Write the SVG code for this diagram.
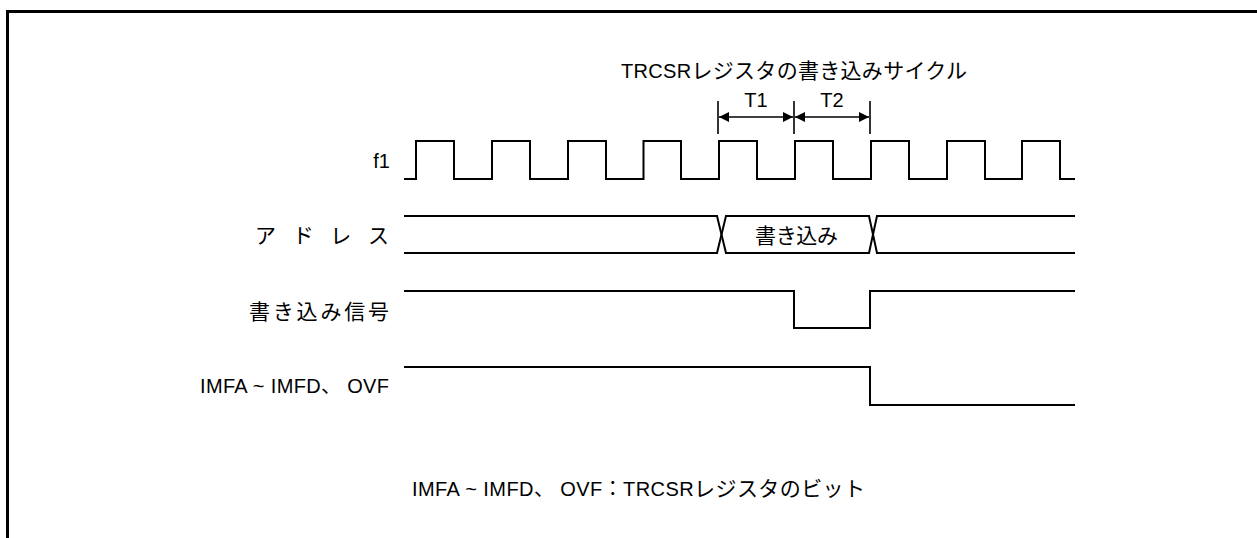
<svg xmlns="http://www.w3.org/2000/svg" width="1257" height="538" viewBox="0 0 1257 538">
<style>
text{font-family:"Liberation Sans","Noto Sans CJK JP",sans-serif;font-size:20px;fill:#000}
.cj{font-size:21px}
.sig{fill:none;stroke:#000;stroke-width:2}
.thin{fill:none;stroke:#000;stroke-width:1.6}
.r{text-anchor:end}
.m{text-anchor:middle}
</style>
<defs>
<marker id="ah" viewBox="0 0 10 10" refX="10" refY="5" markerWidth="15" markerHeight="10" markerUnits="userSpaceOnUse" orient="auto-start-reverse">
<path d="M0,0 L10,5 L0,10 Z" fill="#000"/>
</marker>
</defs>
<rect width="1257" height="538" fill="#fff"/>
<path d="M7.5,538 V11.5 H1257" fill="none" stroke="#000" stroke-width="3"/>
<text x="621" y="78" textLength="346" lengthAdjust="spacing">TRCSR<tspan class="cj">レジスタの書き込みサイクル</tspan></text>
<g id="f1">
<text class="r" x="390" y="168">f1</text>
<path class="sig" d="M404,179 H416 V141 H454 V179 H492 V141 H530 V179 H568 V141 H606 V179 H643.5 V141 H681 V179 H719 V141 H757 V179 H795 V141 H833 V179 H871 V141 H909 V179 H947 V141 H985 V179 H1022 V141 H1060 V179 H1075"/>
</g>
<g id="address">
<text class="cj" x="255" y="243" textLength="134" lengthAdjust="spacing">アドレス</text>
<path class="sig" d="M404,216 H717 L726,253 H869 L877,216 H1075"/>
<path class="sig" d="M404,253 H717 L726,216 H869 L877,253 H1075"/>
<text class="cj" x="755" y="243" textLength="83" lengthAdjust="spacing">書き込み</text>
</g>
<g id="write">
<text class="cj" x="249" y="319" textLength="140" lengthAdjust="spacing">書き込み信号</text>
<path class="sig" d="M404,291 H794 V328 H870 V291 H1075"/>
</g>
<g id="imfa">
<text x="200" y="393" textLength="189" lengthAdjust="spacing">IMFA ~ IMFD、 OVF</text>
<path class="sig" d="M404,367 H870 V405 H1075"/>
</g>
<g id="connectors">
<line class="thin" x1="718" y1="101" x2="718" y2="134"/>
<line class="thin" x1="794" y1="101" x2="794" y2="134"/>
<line class="thin" x1="870" y1="101" x2="870" y2="134"/>
<line class="thin" x1="719" y1="117" x2="793" y2="117" marker-start="url(#ah)" marker-end="url(#ah)"/>
<line class="thin" x1="795" y1="117" x2="869" y2="117" marker-start="url(#ah)" marker-end="url(#ah)"/>
<text class="m" x="756" y="107">T1</text>
<text class="m" x="832" y="107">T2</text>
</g>
<text x="412" y="496" textLength="453" lengthAdjust="spacing">IMFA ~ IMFD、 OVF：TRCSR<tspan class="cj">レジスタのビット</tspan></text>
</svg>
